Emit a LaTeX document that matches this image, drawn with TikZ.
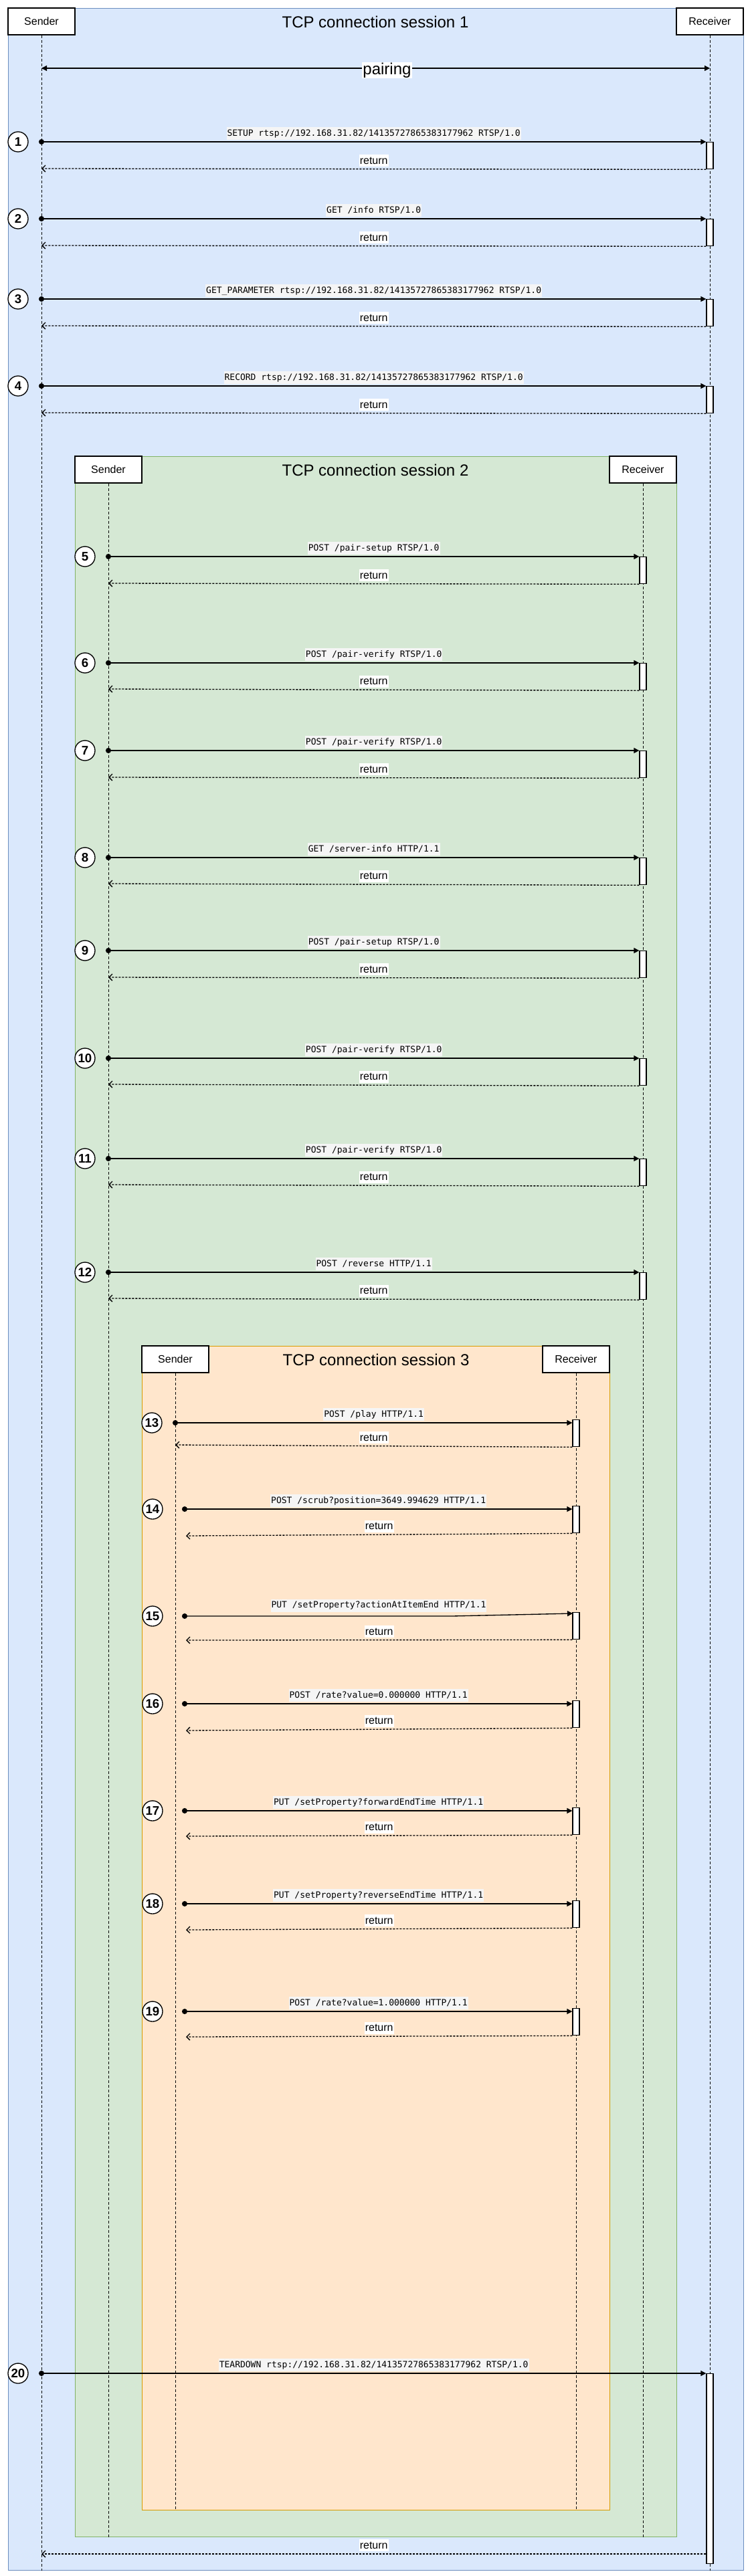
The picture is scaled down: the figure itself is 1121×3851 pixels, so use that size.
\documentclass[tikz,border=0pt]{standalone}
\usepackage{fontspec}
\setmainfont{Liberation Sans}
\newfontfamily\monofont{DejaVu Sans Mono}
\usetikzlibrary{arrows.meta}
\definecolor{bfill}{HTML}{DAE8FC}
\definecolor{bline}{HTML}{6C8EBF}
\definecolor{gfill}{HTML}{D5E8D4}
\definecolor{gline}{HTML}{82B366}
\definecolor{ofill}{HTML}{FFE6CC}
\definecolor{oline}{HTML}{D79B00}
\definecolor{labelbg}{HTML}{F5F5F5}
\tikzset{
  sessframe/.style={line width=1.2pt, minimum height=0pt, inner sep=0pt, anchor=north west},
  actor/.style={draw=black, fill=white, line width=1.33pt, minimum width=100pt, minimum height=40pt, inner sep=0pt, font=\fontsize{16}{18}\selectfont},
  sesstitle/.style={inner sep=0pt, font=\fontsize{24}{28}\selectfont},
  lifeline/.style={draw=black, line width=1pt, dash pattern=on 4pt off 3pt},
  actbox/.style={draw=black, fill=white, line width=1.33pt, minimum width=10pt, inner sep=0pt, anchor=north},
  stepnum/.style={circle, draw=black, fill=white, line width=1.33pt, minimum size=30pt, inner sep=0pt, font=\bfseries\fontsize{18.67}{20}\selectfont},
  msgline/.style={line width=1.33pt, arrows={Circle[length=8pt]-Triangle[length=8pt,width=8pt]}, shorten <=-4pt},
  retline/.style={line width=1.33pt, dash pattern=on 3pt off 2pt, arrows={-Straight Barb[length=5pt,width=10pt]}},
  pairline/.style={line width=1.33pt, arrows={Triangle[length=8pt,width=8pt]-Triangle[length=8pt,width=8pt]}},
  msglabel/.style={fill=labelbg, font=\monofont\fontsize{13}{15}\selectfont, inner xsep=1pt, inner ysep=3pt, text height=10pt, text depth=3pt, above=2pt},
  retlabel/.style={fill=white, font=\fontsize{16}{18}\selectfont, inner xsep=1pt, inner ysep=2pt, text height=12pt, text depth=2pt, above=3pt},
}
% #1 id, #2 y, #3 box top, #4 box bottom, #5 return end y, #6 label
\newcommand{\SeqMsg}[6]{%
  \node[stepnum] (n#1) at (\circx,#2) {#1};
  \coordinate (s#1) at (\dotx,#2);
  \node[actbox, minimum height={#4-#3}] (a#1) at (\recvx,#3) {};
  \coordinate (r#1) at (\retx,#5);
  \draw[msgline] (s#1) -- node[msglabel] {#6} (a#1.west |- s#1);
  \draw[retline] (a#1.south west) -- node[retlabel] {return} (r#1);
}
\begin{document}
\begin{tikzpicture}[x=1pt, y=-1pt]
\fill[white] (0,0) rectangle (1121,3851);
% ---------- session 1 ----------
\node[sessframe, fill=bfill, draw=bline, minimum width=1099pt, minimum height=3830pt] (f1) at (12,12) {};
\node[actor] (snd1) at (62,32) {Sender};
\node[actor] (rcv1) at (1061,32) {Receiver};
\draw[lifeline] (snd1.south) -- (snd1.south |- f1.south);
\draw[lifeline] (rcv1.south) -- (rcv1.south |- f1.south);
\node[sesstitle] (t1) at (561,33) {TCP connection session 1};
\coordinate (pl) at (62,102);
\coordinate (pr) at (1061,102);
\draw[pairline] (pl) -- node[pos=0.517, fill=white, inner sep=1pt, yshift=-3pt, font=\fontsize{24}{28}\selectfont] {pairing} (pr);
\def\circx{27}\def\dotx{62}\def\recvx{1061}\def\retx{62}
\SeqMsg{1}{212}{212}{252}{252}{SETUP rtsp://192.168.31.82/14135727865383177962 RTSP/1.0}
\SeqMsg{2}{327}{327}{367}{367}{GET /info RTSP/1.0}
\SeqMsg{3}{447}{447}{487}{487}{GET\_PARAMETER rtsp://192.168.31.82/14135727865383177962 RTSP/1.0}
\SeqMsg{4}{577}{577}{617}{617}{RECORD rtsp://192.168.31.82/14135727865383177962 RTSP/1.0}
% ---------- session 2 ----------
\node[sessframe, fill=gfill, draw=gline, minimum width=899pt, minimum height=3110pt] (f2) at (112,682) {};
\node[actor] (snd2) at (162,702) {Sender};
\node[actor] (rcv2) at (961,702) {Receiver};
\draw[lifeline] (snd2.south) -- (snd2.south |- f2.south);
\draw[lifeline] (rcv2.south) -- (rcv2.south |- f2.south);
\node[sesstitle] (t2) at (561,703) {TCP connection session 2};
\def\circx{127}\def\dotx{162}\def\recvx{961}\def\retx{162}
\SeqMsg{5}{832}{832}{872}{872}{POST /pair-setup RTSP/1.0}
\SeqMsg{6}{991}{991}{1031}{1030}{POST /pair-verify RTSP/1.0}
\SeqMsg{7}{1122}{1122}{1162}{1162}{POST /pair-verify RTSP/1.0}
\SeqMsg{8}{1282}{1282}{1322}{1321}{GET /server-info HTTP/1.1}
\SeqMsg{9}{1421}{1421}{1461}{1461}{POST /pair-setup RTSP/1.0}
\SeqMsg{10}{1582}{1582}{1622}{1621}{POST /pair-verify RTSP/1.0}
\SeqMsg{11}{1732}{1732}{1772}{1771}{POST /pair-verify RTSP/1.0}
\SeqMsg{12}{1902}{1902}{1942}{1941}{POST /reverse HTTP/1.1}
% ---------- session 3 ----------
\node[sessframe, fill=ofill, draw=oline, minimum width=699pt, minimum height=1740pt] (f3) at (212,2012) {};
\node[actor] (snd3) at (262,2032) {Sender};
\node[actor] (rcv3) at (861,2032) {Receiver};
\draw[lifeline] (snd3.south) -- (snd3.south |- f3.south);
\draw[lifeline] (rcv3.south) -- (rcv3.south |- f3.south);
\node[sesstitle] (t3) at (562,2033) {TCP connection session 3};
\def\circx{227}\def\dotx{262}\def\recvx{861}\def\retx{262}
\SeqMsg{13}{2127}{2122}{2162}{2160}{POST /play HTTP/1.1}
\def\circx{228}\def\dotx{276}\def\retx{278}
\SeqMsg{14}{2256}{2251}{2291}{2296}{POST /scrub?position=3649.994629 HTTP/1.1}
% message 15 (with a small kink)
\node[stepnum] (n15) at (228,2416) {15};
\coordinate (s15) at (276,2416);
\coordinate (k15) at (675,2416);
\node[actbox, minimum height=40pt] (a15) at (861,2410) {};
\coordinate (e15) at (856,2412);
\coordinate (r15) at (278,2452);
\draw[msgline] (s15) -- (k15) -- (e15);
\path (s15) -- node[msglabel, above=4pt] {PUT /setProperty?actionAtItemEnd HTTP/1.1} (s15 -| e15);
\draw[retline] (a15.south west) -- node[retlabel] {return} (r15);
\SeqMsg{16}{2547}{2542}{2582}{2587}{POST /rate?value=0.000000 HTTP/1.1}
\SeqMsg{17}{2707}{2702}{2742}{2745}{PUT /setProperty?forwardEndTime HTTP/1.1}
\SeqMsg{18}{2846}{2841}{2881}{2885}{PUT /setProperty?reverseEndTime HTTP/1.1}
\SeqMsg{19}{3007}{3002}{3042}{3045}{POST /rate?value=1.000000 HTTP/1.1}
% ---------- message 20 (session 1) ----------
\node[stepnum] (n20) at (27,3548) {20};
\coordinate (s20) at (62,3548);
\node[actbox, minimum height=284pt] (a20) at (1061,3548) {};
\coordinate (r20) at (62,3818);
\draw[msgline] (s20) -- node[msglabel] {TEARDOWN rtsp://192.168.31.82/14135727865383177962 RTSP/1.0} (a20.north west);
\draw[retline] (a20.west |- r20) -- node[retlabel] {return} (r20);
\end{tikzpicture}
\end{document}
